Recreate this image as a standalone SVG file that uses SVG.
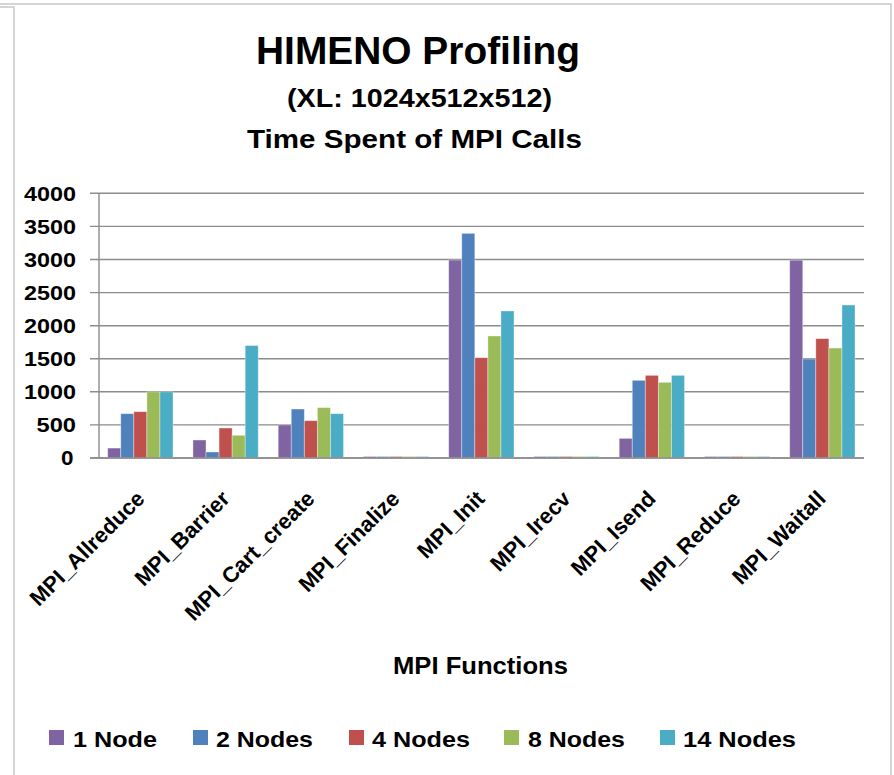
<svg xmlns="http://www.w3.org/2000/svg" width="894" height="775" viewBox="0 0 894 775">
<style>
text{font-family:"Liberation Sans",Arial,sans-serif;font-weight:bold;fill:#000}
.t1{font-size:39px}
.t2{font-size:25px}
.t3{font-size:25px}
.tx{font-size:24px}
.tick{font-size:19.5px;text-anchor:end}
.cat{font-size:22px;text-anchor:end}
.leg{font-size:22px}
.grid{stroke:#8c8c8c;stroke-width:1.4}
.frame{stroke:#c8c8c8;stroke-width:1.5;fill:none}
.s1{fill:#8064A2}.s2{fill:#4F81BD}.s3{fill:#C0504D}.s4{fill:#9BBB59}.s5{fill:#4BACC6}
.bar rect{stroke:#ffffff;stroke-opacity:0.45;stroke-width:0.8}
</style>
<rect width="894" height="775" fill="#fff"/>
<g id="frame">
<path class="frame" d="M0 4H891V775M0 7H14V775"/>
</g>
<g id="title">
<text class="t1" x="256" y="64" textLength="324" lengthAdjust="spacingAndGlyphs">HIMENO Profiling</text>
<text class="t2" x="287" y="107" textLength="265" lengthAdjust="spacingAndGlyphs">(XL: 1024x512x512)</text>
<text class="t3" x="247" y="148" textLength="335" lengthAdjust="spacingAndGlyphs">Time Spent of MPI  Calls</text>
</g>
<g id="grid">
<path class="grid" d="M90 193.3H864M90 226.4H864M90 259.5H864M90 292.6H864M90 325.7H864M90 358.8H864M90 391.8H864M90 424.9H864M90 458H864M99 193.3V458"/>
</g>
<g id="yticks">
<text class="tick" x="76" y="200.5" textLength="52" lengthAdjust="spacingAndGlyphs">4000</text>
<text class="tick" x="76" y="233.6" textLength="52" lengthAdjust="spacingAndGlyphs">3500</text>
<text class="tick" x="76" y="266.7" textLength="52" lengthAdjust="spacingAndGlyphs">3000</text>
<text class="tick" x="76" y="299.8" textLength="52" lengthAdjust="spacingAndGlyphs">2500</text>
<text class="tick" x="76" y="332.9" textLength="52" lengthAdjust="spacingAndGlyphs">2000</text>
<text class="tick" x="76" y="366" textLength="52" lengthAdjust="spacingAndGlyphs">1500</text>
<text class="tick" x="76" y="399" textLength="52" lengthAdjust="spacingAndGlyphs">1000</text>
<text class="tick" x="76" y="432.1" textLength="39.5" lengthAdjust="spacingAndGlyphs">500</text>
<text class="tick" x="73.5" y="465.2" textLength="12.5" lengthAdjust="spacingAndGlyphs">0</text>
</g>
<g id="bars" class="bar">
<g id="cat-allreduce" transform="translate(107.7,0)">
<rect class="s1" x="0" y="448.07" width="13.06" height="9.93"/>
<rect class="s2" x="13.06" y="413.67" width="13.06" height="44.33"/>
<rect class="s3" x="26.12" y="411.68" width="13.06" height="46.32"/>
<rect class="s4" x="39.18" y="391.83" width="13.06" height="66.17"/>
<rect class="s5" x="52.24" y="391.83" width="13.06" height="66.17"/>
</g>
<g id="cat-barrier" transform="translate(192.95,0)">
<rect class="s1" x="0" y="440" width="13.06" height="18"/>
<rect class="s2" x="13.06" y="451.98" width="13.06" height="6.02"/>
<rect class="s3" x="26.12" y="428.02" width="13.06" height="29.98"/>
<rect class="s4" x="39.18" y="435.3" width="13.06" height="22.7"/>
<rect class="s5" x="52.24" y="345.51" width="13.06" height="112.49"/>
</g>
<g id="cat-cart-create" transform="translate(278.2,0)">
<rect class="s1" x="0" y="424.91" width="13.06" height="33.09"/>
<rect class="s2" x="13.06" y="409.03" width="13.06" height="48.97"/>
<rect class="s3" x="26.12" y="420.68" width="13.06" height="37.32"/>
<rect class="s4" x="39.18" y="407.64" width="13.06" height="50.36"/>
<rect class="s5" x="52.24" y="413.67" width="13.06" height="44.33"/>
</g>
<g id="cat-finalize" transform="translate(363.45,0)">
<rect class="s1" x="0" y="456.5" width="13.06" height="1.5"/>
<rect class="s2" x="13.06" y="456.5" width="13.06" height="1.5"/>
<rect class="s3" x="26.12" y="456.5" width="13.06" height="1.5"/>
<rect class="s4" x="39.18" y="456.5" width="13.06" height="1.5"/>
<rect class="s5" x="52.24" y="456.5" width="13.06" height="1.5"/>
</g>
<g id="cat-init" transform="translate(448.7,0)">
<rect class="s1" x="0" y="260.02" width="13.06" height="197.98"/>
<rect class="s2" x="13.06" y="233.35" width="13.06" height="224.65"/>
<rect class="s3" x="26.12" y="357.69" width="13.06" height="100.31"/>
<rect class="s4" x="39.18" y="335.98" width="13.06" height="122.02"/>
<rect class="s5" x="52.24" y="310.97" width="13.06" height="147.03"/>
</g>
<g id="cat-irecv" transform="translate(533.95,0)">
<rect class="s1" x="0" y="456.5" width="13.06" height="1.5"/>
<rect class="s2" x="13.06" y="456.5" width="13.06" height="1.5"/>
<rect class="s3" x="26.12" y="456.5" width="13.06" height="1.5"/>
<rect class="s4" x="39.18" y="456.5" width="13.06" height="1.5"/>
<rect class="s5" x="52.24" y="456.5" width="13.06" height="1.5"/>
</g>
<g id="cat-isend" transform="translate(619.2,0)">
<rect class="s1" x="0" y="438.35" width="13.06" height="19.65"/>
<rect class="s2" x="13.06" y="380.32" width="13.06" height="77.68"/>
<rect class="s3" x="26.12" y="375.35" width="13.06" height="82.65"/>
<rect class="s4" x="39.18" y="382.3" width="13.06" height="75.7"/>
<rect class="s5" x="52.24" y="375.35" width="13.06" height="82.65"/>
</g>
<g id="cat-reduce" transform="translate(704.45,0)">
<rect class="s1" x="0" y="456.5" width="13.06" height="1.5"/>
<rect class="s2" x="13.06" y="456.5" width="13.06" height="1.5"/>
<rect class="s3" x="26.12" y="456.5" width="13.06" height="1.5"/>
<rect class="s4" x="39.18" y="456.5" width="13.06" height="1.5"/>
<rect class="s5" x="52.24" y="456.5" width="13.06" height="1.5"/>
</g>
<g id="cat-waitall" transform="translate(789.7,0)">
<rect class="s1" x="0" y="260.15" width="13.06" height="197.85"/>
<rect class="s2" x="13.06" y="359.01" width="13.06" height="98.99"/>
<rect class="s3" x="26.12" y="338.63" width="13.06" height="119.37"/>
<rect class="s4" x="39.18" y="348.03" width="13.06" height="109.97"/>
<rect class="s5" x="52.24" y="305.01" width="13.06" height="152.99"/>
</g>
</g>
<g id="axis">
<path class="grid" d="M90 458H864"/>
</g>
<g id="xlabels">
<text class="cat" transform="translate(146,500) rotate(-45)">MPI_Allreduce</text>
<text class="cat" transform="translate(231,500) rotate(-45)">MPI_Barrier</text>
<text class="cat" transform="translate(316,500) rotate(-45)">MPI_Cart_create</text>
<text class="cat" transform="translate(401,500) rotate(-45)">MPI_Finalize</text>
<text class="cat" transform="translate(486,500) rotate(-45)">MPI_Init</text>
<text class="cat" transform="translate(572,500) rotate(-45)">MPI_Irecv</text>
<text class="cat" transform="translate(657,500) rotate(-45)">MPI_Isend</text>
<text class="cat" transform="translate(742,500) rotate(-45)">MPI_Reduce</text>
<text class="cat" transform="translate(827,500) rotate(-45)">MPI_Waitall</text>
</g>
<g id="xtitle">
<text class="tx" x="393" y="674" textLength="175" lengthAdjust="spacingAndGlyphs">MPI Functions</text>
</g>
<g id="legend">
<g id="leg-1"><rect class="s1" x="49" y="730" width="15" height="15"/><text class="leg" x="73" y="746.5" textLength="84" lengthAdjust="spacingAndGlyphs">1 Node</text></g>
<g id="leg-2"><rect class="s2" x="193" y="730" width="15" height="15"/><text class="leg" x="216" y="746.5" textLength="97" lengthAdjust="spacingAndGlyphs">2 Nodes</text></g>
<g id="leg-4"><rect class="s3" x="349" y="730" width="15" height="15"/><text class="leg" x="372" y="746.5" textLength="98" lengthAdjust="spacingAndGlyphs">4 Nodes</text></g>
<g id="leg-8"><rect class="s4" x="504" y="730" width="15" height="15"/><text class="leg" x="528" y="746.5" textLength="97" lengthAdjust="spacingAndGlyphs">8 Nodes</text></g>
<g id="leg-14"><rect class="s5" x="660" y="730" width="15" height="15"/><text class="leg" x="683" y="746.5" textLength="113" lengthAdjust="spacingAndGlyphs">14 Nodes</text></g>
</g>
</svg>
